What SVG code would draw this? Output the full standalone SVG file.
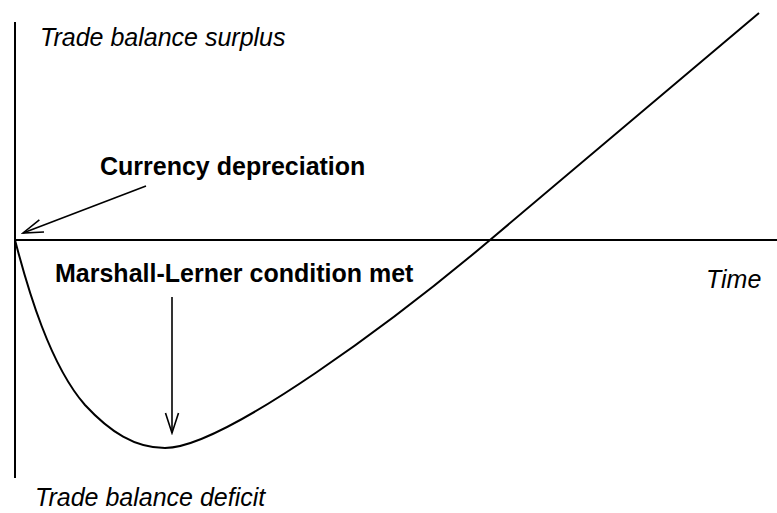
<svg xmlns="http://www.w3.org/2000/svg" width="777" height="513" viewBox="0 0 777 513">
  <style>
    .ln { fill: none; stroke: #000; stroke-width: 2; }
    .ar { fill: none; stroke: #000; stroke-width: 1.6; }
    .it { font-family: "Liberation Sans", Arial, sans-serif; font-style: italic; font-size: 25px; fill: #000; }
    .bd { font-family: "Liberation Sans", Arial, sans-serif; font-weight: bold; font-size: 25px; fill: #000; }
  </style>
  <defs>
    <marker id="vhead" markerUnits="userSpaceOnUse" viewBox="-22 -9 24 18" markerWidth="24" markerHeight="18" refX="0" refY="0" orient="auto">
      <path d="M-20,-6.5 L0,0 L-20,6.5" fill="none" stroke="#000" stroke-width="1.6"/>
    </marker>
  </defs>
  <rect width="777" height="513" fill="#fff"/>
  <g id="axes">
    <line class="ln" x1="15" y1="22" x2="15" y2="478"/>
    <line class="ln" x1="15" y1="240" x2="777" y2="240"/>
  </g>
  <g id="curve">
    <path class="ln" d="M15,240 C28,290 50,365 85,405 C110,432 135,448 165,448 C225,448 400,316 490,240 L759,13"/>
  </g>
  <g id="connectors">
    <line class="ar" x1="146" y1="186" x2="23" y2="233" marker-end="url(#vhead)"/>
    <line class="ar" x1="172" y1="297" x2="172" y2="433" marker-end="url(#vhead)"/>
  </g>
  <g id="label-surplus"><text class="it" x="40" y="46">Trade balance surplus</text></g>
  <g id="label-deficit"><text class="it" x="35" y="506">Trade balance deficit</text></g>
  <g id="label-time"><text class="it" x="706" y="288">Time</text></g>
  <g id="label-depreciation"><text class="bd" x="100" y="175">Currency depreciation</text></g>
  <g id="label-marshall"><text class="bd" x="55" y="282">Marshall-Lerner condition met</text></g>
</svg>
